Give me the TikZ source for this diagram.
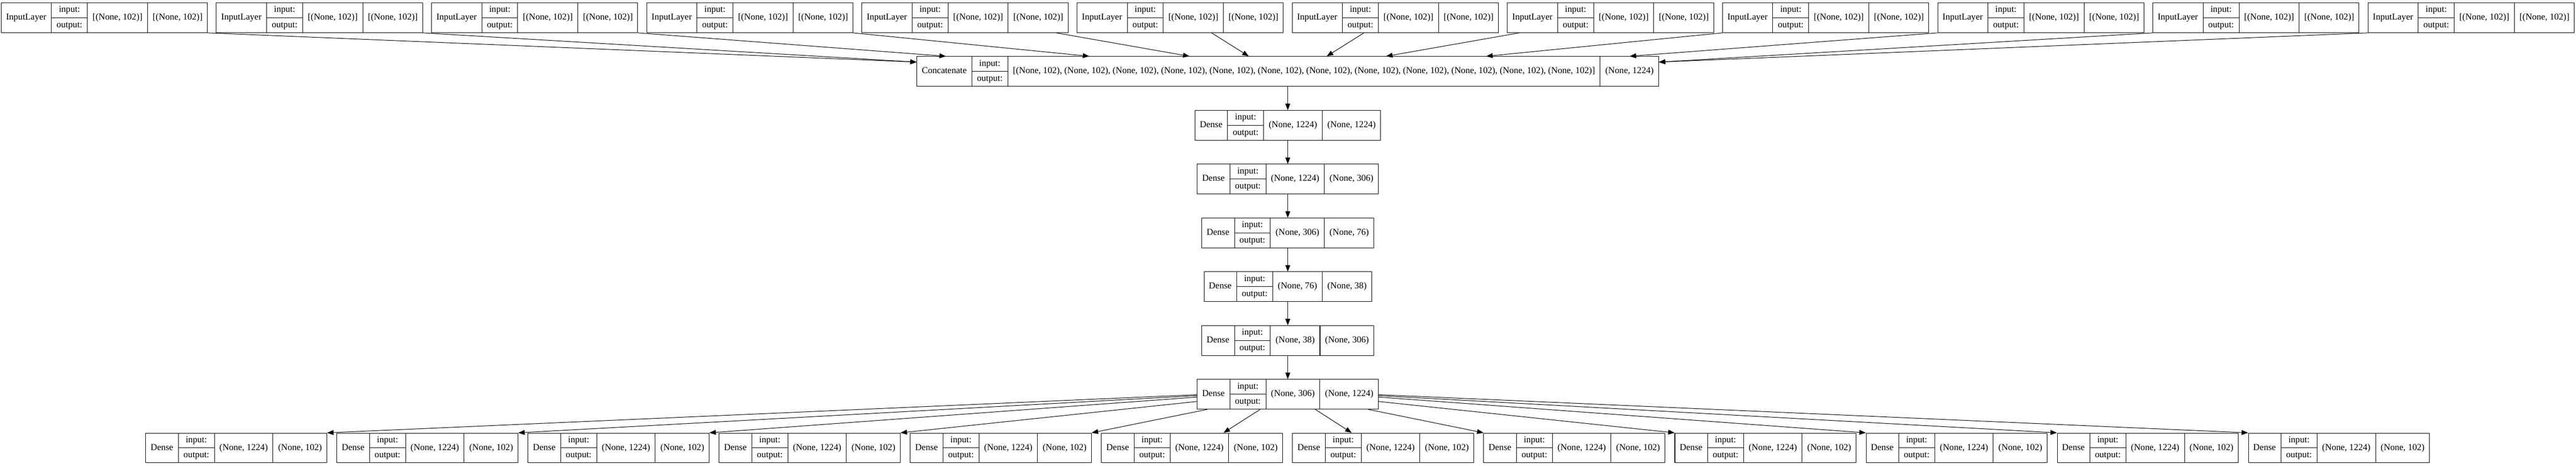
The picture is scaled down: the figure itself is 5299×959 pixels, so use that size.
\documentclass[tikz,border=0pt]{standalone}
\usepackage{fontspec}
\setmainfont{Liberation Serif}
\usepackage{tikz}
\usetikzlibrary{arrows.meta}
\usetikzlibrary{calc}

% one record: name | input:/output: | in shape | out shape
\newlength{\layerh}
\setlength{\layerh}{46pt}
\newlength{\iow}
\newcommand{\lcell}[1]{\vbox to \layerh{\vss\hbox{\hskip7.5pt\relax\strut#1\hskip7.5pt\relax}\vss}}
\newcommand{\iocell}{\settowidth{\iow}{output:}\addtolength{\iow}{15pt}%
  \vbox to \layerh{%
    \vbox to \dimexpr0.5\layerh-0.4pt\relax{\vss\hbox to\iow{\hfil\strut input:\hfil}\vss}%
    \hrule height 0.8pt\relax
    \vbox to \dimexpr0.5\layerh-0.4pt\relax{\vss\hbox to\iow{\hfil\strut output:\hfil}\vss}}}
\newcommand{\layerbox}[3]{\lcell{#1}\vrule width 0.8pt\relax\iocell\vrule width 0.8pt\relax\lcell{#2}\vrule width 0.8pt\relax\lcell{#3}}

\begin{document}
\begin{tikzpicture}
      [x=0.75pt, y=-0.75pt,
       layerrec/.style={draw, line width=0.8pt, inner sep=0pt, font=\fontsize{14}{16}\selectfont},
       link/.style={-{Triangle[length=10pt, width=7.5pt]}, line width=0.8pt}]
      \useasboundingbox (0,0) rectangle (5299,959);

      % inputs
      \node (in1) [layerrec] at (214.6, 36.5) {\layerbox{InputLayer}{[(None, 102)]}{[(None, 102)]}};
      \node (in2) [layerrec] at (657.2, 36.5) {\layerbox{InputLayer}{[(None, 102)]}{[(None, 102)]}};
      \node (in3) [layerrec] at (1099.8, 36.5) {\layerbox{InputLayer}{[(None, 102)]}{[(None, 102)]}};
      \node (in4) [layerrec] at (1542.4, 36.5) {\layerbox{InputLayer}{[(None, 102)]}{[(None, 102)]}};
      \node (in5) [layerrec] at (1985, 36.5) {\layerbox{InputLayer}{[(None, 102)]}{[(None, 102)]}};
      \node (in6) [layerrec] at (2427.6, 36.5) {\layerbox{InputLayer}{[(None, 102)]}{[(None, 102)]}};
      \node (in7) [layerrec] at (2870.2, 36.5) {\layerbox{InputLayer}{[(None, 102)]}{[(None, 102)]}};
      \node (in8) [layerrec] at (3312.8, 36.5) {\layerbox{InputLayer}{[(None, 102)]}{[(None, 102)]}};
      \node (in9) [layerrec] at (3755.4, 36.5) {\layerbox{InputLayer}{[(None, 102)]}{[(None, 102)]}};
      \node (in10) [layerrec] at (4198, 36.5) {\layerbox{InputLayer}{[(None, 102)]}{[(None, 102)]}};
      \node (in11) [layerrec] at (4640.6, 36.5) {\layerbox{InputLayer}{[(None, 102)]}{[(None, 102)]}};
      \node (in12) [layerrec] at (5083.2, 36.5) {\layerbox{InputLayer}{[(None, 102)]}{[(None, 102)]}};

      % middle column
      \node (cat) [layerrec] at (2649, 147) {\layerbox{Concatenate}{[(None, 102), (None, 102), (None, 102), (None, 102), (None, 102), (None, 102), (None, 102), (None, 102), (None, 102), (None, 102), (None, 102), (None, 102)]}{(None, 1224)}};
      \node (d1) [layerrec] at (2649, 258) {\layerbox{Dense}{(None, 1224)}{(None, 1224)}};
      \node (d2) [layerrec] at (2649, 368.7) {\layerbox{Dense}{(None, 1224)}{(None, 306)}};
      \node (d3) [layerrec] at (2649, 479.4) {\layerbox{Dense}{(None, 306)}{(None, 76)}};
      \node (d4) [layerrec] at (2649, 590.1) {\layerbox{Dense}{(None, 76)}{(None, 38)}};
      \node (d5) [layerrec] at (2649, 700.8) {\layerbox{Dense}{(None, 38)}{(None, 306)}};
      \node (d6) [layerrec] at (2649, 811.5) {\layerbox{Dense}{(None, 306)}{(None, 1224)}};

      % outputs
      \node (out1) [layerrec] at (486, 922) {\layerbox{Dense}{(None, 1224)}{(None, 102)}};
      \node (out2) [layerrec] at (879.2, 922) {\layerbox{Dense}{(None, 1224)}{(None, 102)}};
      \node (out3) [layerrec] at (1272.4, 922) {\layerbox{Dense}{(None, 1224)}{(None, 102)}};
      \node (out4) [layerrec] at (1665.6, 922) {\layerbox{Dense}{(None, 1224)}{(None, 102)}};
      \node (out5) [layerrec] at (2058.8, 922) {\layerbox{Dense}{(None, 1224)}{(None, 102)}};
      \node (out6) [layerrec] at (2452, 922) {\layerbox{Dense}{(None, 1224)}{(None, 102)}};
      \node (out7) [layerrec] at (2845.2, 922) {\layerbox{Dense}{(None, 1224)}{(None, 102)}};
      \node (out8) [layerrec] at (3238.4, 922) {\layerbox{Dense}{(None, 1224)}{(None, 102)}};
      \node (out9) [layerrec] at (3631.6, 922) {\layerbox{Dense}{(None, 1224)}{(None, 102)}};
      \node (out10) [layerrec] at (4024.8, 922) {\layerbox{Dense}{(None, 1224)}{(None, 102)}};
      \node (out11) [layerrec] at (4418, 922) {\layerbox{Dense}{(None, 1224)}{(None, 102)}};
      \node (out12) [layerrec] at (4811.2, 922) {\layerbox{Dense}{(None, 1224)}{(None, 102)}};

      \draw [link] (in1.south east) -- ($(cat.north west)+(0,12)$);
      \draw [link] (in2.south east) -- ($(cat.north west)+(0,12)$);
      \draw [link] (in3.south east) -- ($(cat.north west)+(60,0)$);
      \draw [link] (in4.south east) -- ($(cat.north west)+(355,0)$);
      \draw [link] ($(in5.south east)+(-25,0)$) -- ($(cat.north west)+(561,0)$);
      \draw [link] ($(in6.south east)+(-148,0)$) -- ($(cat.north west)+(683,0)$);
      \draw [link] ($(in7.south west)+(148,0)$) -- ($(cat.north east)+(-683,0)$);
      \draw [link] ($(in8.south west)+(25,0)$) -- ($(cat.north east)+(-561,0)$);
      \draw [link] (in9.south west) -- ($(cat.north east)+(-355,0)$);
      \draw [link] (in10.south west) -- ($(cat.north east)+(-60,0)$);
      \draw [link] (in11.south west) -- ($(cat.north east)+(0,12)$);
      \draw [link] (in12.south west) -- ($(cat.north east)+(0,12)$);

      \draw [link] (cat) -- (d1);
      \draw [link] (d1) -- (d2);
      \draw [link] (d2) -- (d3);
      \draw [link] (d3) -- (d4);
      \draw [link] (d4) -- (d5);
      \draw [link] (d5) -- (d6);

      \draw [link] ($(d6.north west)+(0,32)$) -- (out1.north east);
      \draw [link] ($(d6.north west)+(0,34)$) -- (out2.north east);
      \draw [link] ($(d6.north west)+(0,37)$) -- (out3.north east);
      \draw [link] ($(d6.north west)+(0,46)$) -- (out4.north east);
      \draw [link] ($(d6.south west)+(21,0)$) -- (out5.north east);
      \draw [link] ($(d6.south west)+(130,0)$) -- ($(out6.north east)+(-122,0)$);
      \draw [link] ($(d6.south east)+(-130,0)$) -- ($(out7.north west)+(122,0)$);
      \draw [link] ($(d6.south east)+(-21,0)$) -- (out8.north west);
      \draw [link] ($(d6.north east)+(0,46)$) -- (out9.north west);
      \draw [link] ($(d6.north east)+(0,37)$) -- (out10.north west);
      \draw [link] ($(d6.north east)+(0,34)$) -- (out11.north west);
      \draw [link] ($(d6.north east)+(0,32)$) -- (out12.north west);
    \end{tikzpicture}
\end{document}
